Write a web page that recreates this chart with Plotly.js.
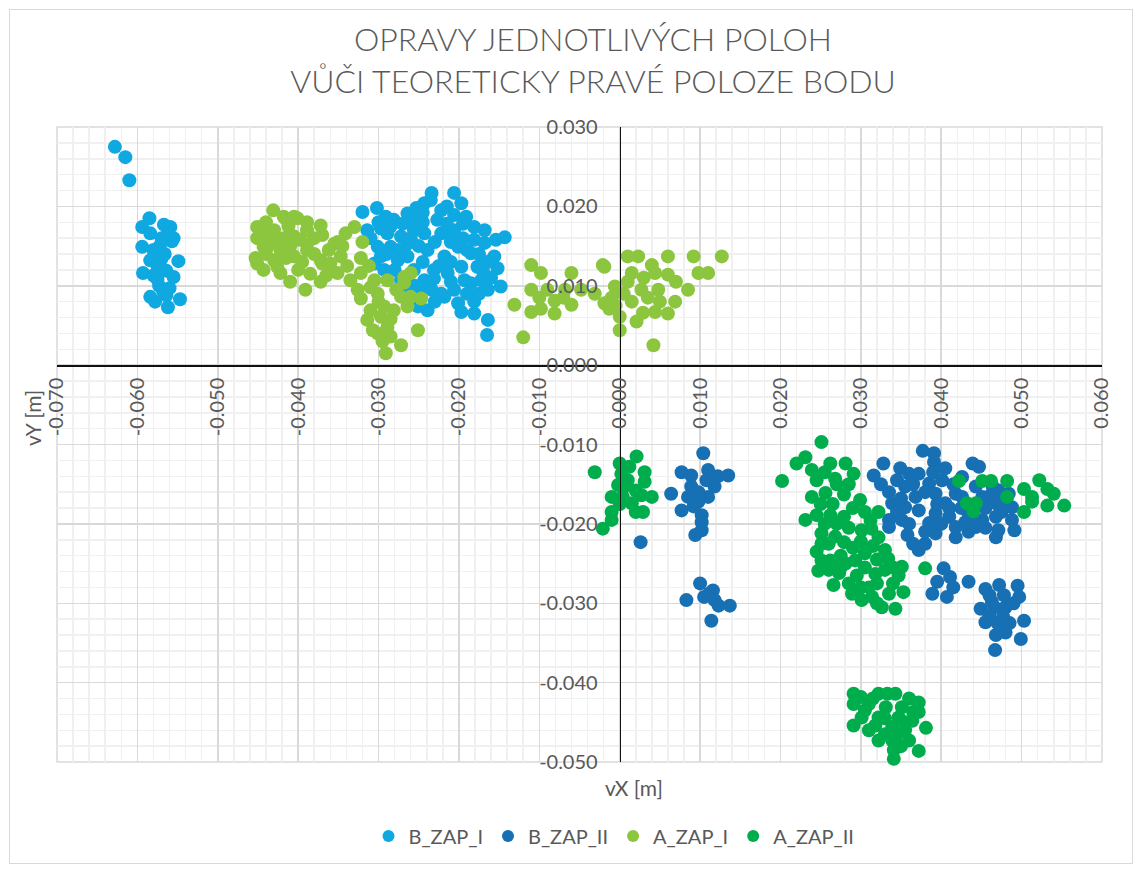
<!DOCTYPE html>
<html>
<head>
<meta charset="utf-8">
<script src="https://cdn.plot.ly/plotly-3.0.1.min.js"></script>
<style>
html,body{margin:0;padding:0;background:#fff;}
#chart{width:1139px;height:871px;position:absolute;left:0;top:0;}
#frame{position:absolute;left:9px;top:9px;width:1122px;height:853px;border:1px solid #D9D9D9;pointer-events:none;}
</style>
</head>
<body>
<div id="chart"></div>
<div id="frame"></div>
<script>
// ---- data (metres) ----
const seriesNames = ['B_ZAP_I', 'B_ZAP_II', 'A_ZAP_I', 'A_ZAP_II'];

const B_ZAP_I = [
[-0.0628,0.0275],[-0.0615,0.0262],[-0.0610,0.0233],
[-0.0585,0.0185],[-0.0594,0.0174],[-0.0567,0.0177],[-0.0559,0.0174],[-0.0584,0.0166],[-0.0555,0.0160],
[-0.0557,0.0156],[-0.0594,0.0149],[-0.0580,0.0145],[-0.0572,0.0150],[-0.0584,0.0132],[-0.0570,0.0134],
[-0.0549,0.0131],[-0.0593,0.0116],[-0.0580,0.0113],[-0.0564,0.0119],[-0.0555,0.0111],[-0.0584,0.0086],
[-0.0578,0.0080],[-0.0564,0.0088],[-0.0562,0.0073],[-0.0547,0.0083],[-0.0560,0.0097],[-0.0573,0.0100],
[-0.0575,0.0125],[-0.0562,0.0165],[-0.0570,0.0160],[-0.0566,0.0140],[-0.0575,0.0108],[-0.0568,0.0093],
[-0.0320,0.0193],[-0.0302,0.0198],[-0.0291,0.0187],[-0.0314,0.0170],[-0.0297,0.0172],[-0.0264,0.0191],
[-0.0253,0.0198],[-0.0243,0.0204],[-0.0234,0.0217],[-0.0206,0.0217],[-0.0197,0.0204],[-0.0222,0.0195],
[-0.0206,0.0189],[-0.0191,0.0187],[-0.0181,0.0174],[-0.0168,0.0170],[-0.0154,0.0158],[-0.0143,0.0161],
[-0.0156,0.0137],[-0.0152,0.0122],[-0.0148,0.0099],[-0.0164,0.0095],[-0.0164,0.0057],[-0.0165,0.0038],
[-0.0181,0.0065],[-0.0197,0.0067],[-0.0239,0.0069],[-0.0251,0.0074],[-0.0222,0.0090],[-0.0206,0.0095],
[-0.0185,0.0103],[-0.0177,0.0124],[-0.0185,0.0141],[-0.0201,0.0149],[-0.0218,0.0137],[-0.0231,0.0120],
[-0.0239,0.0145],[-0.0222,0.0166],[-0.0243,0.0166],[-0.0256,0.0170],[-0.0272,0.0162],[-0.0285,0.0149],
[-0.0301,0.0149],[-0.0305,0.0128],[-0.0293,0.0120],[-0.0276,0.0132],[-0.0264,0.0137],[-0.0256,0.0120],
[-0.0243,0.0107],[-0.0231,0.0109],[-0.0214,0.0116],[-0.0197,0.0124],[-0.0193,0.0107],[-0.0172,0.0107],
[-0.0218,0.0086],[-0.0201,0.0078],[-0.0181,0.0080],[-0.0272,0.0107],[-0.0247,0.0095],[-0.0234,0.0095],
[-0.0214,0.0166],[-0.0206,0.0170],[-0.0181,0.0158],[-0.0168,0.0154],[-0.0264,0.0153],[-0.0289,0.0166],
[-0.0281,0.0183],[-0.0256,0.0183],[-0.0227,0.0183],[-0.0235,0.0208],[-0.0297,0.0137],
[-0.0290,0.0140],[-0.0275,0.0145],[-0.0260,0.0160],[-0.0250,0.0150],[-0.0230,0.0155],[-0.0210,0.0155],
[-0.0195,0.0160],[-0.0190,0.0145],[-0.0175,0.0140],[-0.0165,0.0130],[-0.0170,0.0118],[-0.0160,0.0110],
[-0.0210,0.0130],[-0.0225,0.0125],[-0.0245,0.0130],[-0.0280,0.0120],[-0.0285,0.0175],[-0.0270,0.0178],
[-0.0245,0.0180],[-0.0215,0.0178],[-0.0195,0.0178],[-0.0210,0.0105],[-0.0230,0.0080],[-0.0190,0.0090],
[-0.0175,0.0090],[-0.0255,0.0100],[-0.0265,0.0095],[-0.0215,0.0200],[-0.0245,0.0192],[-0.0310,0.0160],
[-0.0300,0.0180]
];

const B_ZAP_II = [
[0.0104,-0.0111],[0.0077,-0.0135],[0.0135,-0.0139],[0.0064,-0.0162],[0.0077,-0.0183],[0.0102,-0.0189],
[0.0098,-0.0172],[0.0089,-0.0153],[0.0110,-0.0132],[0.0118,-0.0153],[0.0102,-0.0208],[0.0094,-0.0214],
[0.0026,-0.0223],[0.0100,-0.0275],[0.0083,-0.0296],[0.0116,-0.0284],[0.0111,-0.0288],[0.0123,-0.0303],
[0.0137,-0.0303],[0.0114,-0.0322],[0.0089,-0.0139],[0.0110,-0.0166],[0.0085,-0.0166],
[0.0098,-0.0160],[0.0092,-0.0178],[0.0108,-0.0145],[0.0102,-0.0198],[0.0122,-0.0140],[0.0105,-0.0292],
[0.0118,-0.0296],
[0.0377,-0.0108],[0.0391,-0.0111],[0.0391,-0.0122],[0.0328,-0.0124],[0.0316,-0.0139],[0.0349,-0.0130],
[0.0360,-0.0137],[0.0372,-0.0137],[0.0439,-0.0124],[0.0447,-0.0128],[0.0426,-0.0141],[0.0401,-0.0145],
[0.0385,-0.0149],[0.0355,-0.0153],[0.0335,-0.0160],[0.0339,-0.0174],[0.0335,-0.0195],[0.0335,-0.0204],
[0.0358,-0.0214],[0.0372,-0.0233],[0.0380,-0.0225],[0.0393,-0.0212],[0.0418,-0.0217],[0.0434,-0.0210],
[0.0468,-0.0217],[0.0471,-0.0208],[0.0491,-0.0208],[0.0488,-0.0195],[0.0488,-0.0179],[0.0484,-0.0162],
[0.0471,-0.0158],[0.0468,-0.0191],[0.0451,-0.0195],[0.0434,-0.0187],[0.0410,-0.0191],[0.0393,-0.0187],
[0.0372,-0.0183],[0.0355,-0.0179],[0.0351,-0.0195],[0.0385,-0.0199],[0.0405,-0.0174],[0.0418,-0.0162],
[0.0393,-0.0162],[0.0368,-0.0166],[0.0451,-0.0166],[0.0426,-0.0166],[0.0443,-0.0153],[0.0464,-0.0153],
[0.0418,-0.0204],[0.0443,-0.0204],[0.0468,-0.0174],
[0.0345,-0.0145],[0.0365,-0.0150],[0.0380,-0.0160],[0.0395,-0.0175],[0.0410,-0.0180],[0.0425,-0.0180],
[0.0440,-0.0190],[0.0455,-0.0180],[0.0475,-0.0185],[0.0480,-0.0170],[0.0460,-0.0165],[0.0415,-0.0150],
[0.0400,-0.0200],[0.0380,-0.0210],[0.0360,-0.0200],[0.0345,-0.0185],[0.0390,-0.0135],[0.0405,-0.0130],
[0.0455,-0.0205],[0.0430,-0.0198],[0.0365,-0.0225],[0.0350,-0.0168],[0.0325,-0.0150],
[0.0403,-0.0256],[0.0411,-0.0267],[0.0395,-0.0273],[0.0389,-0.0288],[0.0407,-0.0292],[0.0434,-0.0273],
[0.0455,-0.0282],[0.0472,-0.0277],[0.0495,-0.0278],[0.0497,-0.0292],[0.0449,-0.0307],[0.0466,-0.0305],
[0.0480,-0.0305],[0.0503,-0.0322],[0.0455,-0.0324],[0.0468,-0.0340],[0.0480,-0.0337],[0.0499,-0.0345],
[0.0467,-0.0359],[0.0477,-0.0317],[0.0463,-0.0298],
[0.0460,-0.0290],[0.0478,-0.0290],[0.0490,-0.0300],[0.0470,-0.0325],[0.0485,-0.0325],[0.0460,-0.0315],
[0.0415,-0.0280]
];

const A_ZAP_I = [
[-0.0431,0.0195],[-0.0451,0.0174],[-0.0451,0.0160],[-0.0451,0.0128],[-0.0443,0.0120],[-0.0422,0.0116],
[-0.0410,0.0105],[-0.0391,0.0095],[-0.0372,0.0105],[-0.0370,0.0128],[-0.0370,0.0164],[-0.0401,0.0185],
[-0.0416,0.0185],[-0.0430,0.0170],[-0.0405,0.0162],[-0.0389,0.0170],[-0.0422,0.0145],[-0.0405,0.0137],
[-0.0389,0.0145],[-0.0438,0.0149],[-0.0355,0.0153],[-0.0453,0.0135],[-0.0426,0.0124],[-0.0351,0.0116],
[-0.0335,0.0107],[-0.0330,0.0174],[-0.0341,0.0166],[-0.0351,0.0155],[-0.0320,0.0155],[-0.0372,0.0176],
[-0.0389,0.0180],[-0.0405,0.0187],[-0.0418,0.0187],[-0.0389,0.0152],[-0.0372,0.0132],[-0.0347,0.0137],
[-0.0322,0.0135],[-0.0322,0.0116],[-0.0326,0.0095],[-0.0322,0.0084],[-0.0305,0.0107],[-0.0289,0.0107],
[-0.0301,0.0090],[-0.0310,0.0069],[-0.0314,0.0057],[-0.0297,0.0061],[-0.0281,0.0069],[-0.0264,0.0074],
[-0.0247,0.0084],[-0.0260,0.0086],[-0.0272,0.0086],[-0.0268,0.0111],[-0.0260,0.0116],[-0.0268,0.0104],
[-0.0289,0.0048],[-0.0301,0.0040],[-0.0285,0.0036],[-0.0272,0.0025],[-0.0291,0.0015],[-0.0251,0.0044],
[-0.0307,0.0044],[-0.0293,0.0074],[-0.0426,0.0157],[-0.0418,0.0160],[-0.0443,0.0149],
[-0.0445,0.0165],[-0.0435,0.0158],[-0.0440,0.0140],[-0.0430,0.0132],[-0.0415,0.0135],[-0.0410,0.0150],
[-0.0398,0.0158],[-0.0395,0.0130],[-0.0380,0.0140],[-0.0380,0.0160],[-0.0362,0.0145],[-0.0360,0.0128],
[-0.0345,0.0150],[-0.0400,0.0120],[-0.0385,0.0115],[-0.0412,0.0175],[-0.0440,0.0180],[-0.0365,0.0113],
[-0.0339,0.0125],[-0.0312,0.0125],[-0.0310,0.0098],[-0.0300,0.0080],[-0.0285,0.0058],[-0.0278,0.0095],
[-0.0295,0.0030],
[-0.0110,0.0126],[-0.0098,0.0116],[-0.0131,0.0076],[-0.0120,0.0035],[-0.0110,0.0095],[-0.0110,0.0067],
[-0.0098,0.0071],[-0.0081,0.0065],[-0.0081,0.0081],[-0.0060,0.0116],[-0.0060,0.0076],[-0.0068,0.0095],
[-0.0048,0.0095],[-0.0031,0.0090],[-0.0021,0.0126],[-0.0019,0.0078],[-0.0013,0.0071],[0.0000,0.0061],
[0.0000,0.0044],[-0.0006,0.0099],[0.0010,0.0137],[0.0023,0.0137],[0.0015,0.0116],[0.0021,0.0055],
[0.0029,0.0066],[0.0042,0.0025],[0.0044,0.0067],[0.0044,0.0116],[0.0060,0.0137],[0.0060,0.0114],
[0.0060,0.0065],[0.0069,0.0080],[0.0027,0.0095],[0.0048,0.0095],[0.0085,0.0095],[0.0092,0.0137],
[0.0098,0.0116],[0.0110,0.0116],[0.0127,0.0137],[0.0040,0.0126],[-0.0019,0.0124],
[-0.0100,0.0085],[-0.0090,0.0095],[-0.0070,0.0085],[-0.0010,0.0085],[0.0005,0.0090],[0.0015,0.0080],
[0.0035,0.0085],[0.0050,0.0080],[0.0030,0.0110],[0.0070,0.0105],[0.0010,0.0105],[-0.0005,0.0075]
];

const A_ZAP_II = [
[-0.0031,-0.0135],[0.0000,-0.0124],[0.0021,-0.0115],[0.0031,-0.0135],[0.0002,-0.0137],[0.0031,-0.0147],
[-0.0002,-0.0151],[-0.0010,-0.0166],[0.0004,-0.0166],[0.0040,-0.0166],[0.0027,-0.0164],[0.0015,-0.0174],
[0.0029,-0.0185],[-0.0010,-0.0185],[-0.0010,-0.0195],[-0.0021,-0.0206],[0.0004,-0.0155],
[0.0010,-0.0145],[0.0020,-0.0158],[0.0000,-0.0175],[0.0020,-0.0185],[0.0012,-0.0128],
[0.0251,-0.0097],[0.0231,-0.0116],[0.0220,-0.0124],[0.0239,-0.0132],[0.0262,-0.0124],[0.0281,-0.0124],
[0.0291,-0.0137],[0.0268,-0.0143],[0.0245,-0.0145],[0.0239,-0.0166],[0.0256,-0.0161],[0.0279,-0.0163],
[0.0299,-0.0170],[0.0231,-0.0195],[0.0245,-0.0189],[0.0262,-0.0189],[0.0279,-0.0191],[0.0305,-0.0185],
[0.0322,-0.0185],[0.0251,-0.0212],[0.0251,-0.0225],[0.0268,-0.0216],[0.0279,-0.0223],[0.0301,-0.0208],
[0.0313,-0.0206],[0.0322,-0.0217],[0.0262,-0.0246],[0.0260,-0.0258],[0.0273,-0.0262],[0.0266,-0.0277],
[0.0281,-0.0250],[0.0293,-0.0246],[0.0305,-0.0237],[0.0330,-0.0233],[0.0334,-0.0244],[0.0351,-0.0254],
[0.0347,-0.0265],[0.0330,-0.0258],[0.0318,-0.0263],[0.0310,-0.0280],[0.0289,-0.0288],[0.0301,-0.0296],
[0.0314,-0.0292],[0.0335,-0.0288],[0.0353,-0.0286],[0.0326,-0.0305],[0.0343,-0.0307],[0.0380,-0.0256],
[0.0247,-0.0259],[0.0251,-0.0246],[0.0202,-0.0146],
[0.0250,-0.0175],[0.0265,-0.0175],[0.0270,-0.0200],[0.0285,-0.0205],[0.0290,-0.0180],[0.0260,-0.0225],
[0.0275,-0.0240],[0.0290,-0.0230],[0.0300,-0.0222],[0.0315,-0.0228],[0.0320,-0.0245],[0.0305,-0.0255],
[0.0295,-0.0265],[0.0285,-0.0275],[0.0300,-0.0280],[0.0320,-0.0275],[0.0340,-0.0275],[0.0340,-0.0255],
[0.0270,-0.0150],[0.0255,-0.0135],[0.0285,-0.0150],[0.0275,-0.0255],[0.0255,-0.0200],[0.0245,-0.0235],
[0.0312,-0.0195],[0.0320,-0.0300],
[0.0422,-0.0146],[0.0451,-0.0146],[0.0462,-0.0146],[0.0482,-0.0146],[0.0482,-0.0166],[0.0432,-0.0174],
[0.0443,-0.0174],[0.0440,-0.0184],[0.0503,-0.0156],[0.0513,-0.0166],[0.0503,-0.0185],[0.0522,-0.0145],
[0.0532,-0.0156],[0.0532,-0.0177],[0.0540,-0.0162],[0.0553,-0.0177],[0.0513,-0.0172],
[0.0291,-0.0414],[0.0291,-0.0427],[0.0291,-0.0454],[0.0322,-0.0414],[0.0333,-0.0414],[0.0343,-0.0414],
[0.0310,-0.0427],[0.0372,-0.0425],[0.0372,-0.0437],[0.0351,-0.0431],[0.0331,-0.0431],[0.0301,-0.0444],
[0.0322,-0.0444],[0.0347,-0.0444],[0.0364,-0.0448],[0.0318,-0.0454],[0.0339,-0.0456],[0.0355,-0.0460],
[0.0381,-0.0457],[0.0322,-0.0473],[0.0339,-0.0473],[0.0360,-0.0473],[0.0372,-0.0486],[0.0341,-0.0496],
[0.0341,-0.0485],
[0.0305,-0.0435],[0.0315,-0.0420],[0.0360,-0.0420],[0.0330,-0.0445],[0.0345,-0.0465],[0.0330,-0.0465],
[0.0355,-0.0450],[0.0310,-0.0460],[0.0350,-0.0480],[0.0365,-0.0437],[0.0300,-0.0418]
];

const xTickVals = [-0.07,-0.06,-0.05,-0.04,-0.03,-0.02,-0.01,0,0.01,0.02,0.03,0.04,0.05,0.06];
const xTickText = ['-0.070','-0.060','-0.050','-0.040','-0.030','-0.020','-0.010','0.000','0.010','0.020','0.030','0.040','0.050','0.060'];
const yTickVals = [-0.05,-0.04,-0.03,-0.02,-0.01,0,0.01,0.02,0.03];
const yTickText = ['-0.050','-0.040','-0.030','-0.020','-0.010','0.000','0.010','0.020','0.030'];

const seriesData = [B_ZAP_I, B_ZAP_II, A_ZAP_I, A_ZAP_II];
const seriesColors = ['#0FA8E0', '#1670B3', '#8CC63F', '#00AD4C'];

// ---- chart ----
const xRange = [-0.07, 0.06];
const yRange = [-0.05, 0.03];

const traces = seriesData.map((pts, i) => ({
  type: 'scatter',
  mode: 'markers',
  name: seriesNames[i],
  x: pts.map(p => p[0]),
  y: pts.map(p => p[1]),
  marker: {size: 14, color: seriesColors[i], line: {width: 0}},
  cliponaxis: false
}));

const textColor = '#595959';
const fontFam = 'Lato, "Open Sans", "Liberation Sans", sans-serif';

const axisCommon = {
  tickmode: 'array',
  showgrid: true,
  gridcolor: '#D9D9D9',
  gridwidth: 1.5,
  minor: {dtick: 0.002, tick0: 0, showgrid: true, gridcolor: '#F0F0F0', gridwidth: 1.5, ticks: ''},
  showline: true,
  linecolor: '#111111',
  linewidth: 1.6,
  zeroline: false,
  ticks: '',
  tickfont: {family: fontFam, size: 20, color: textColor},
  fixedrange: true
};

const layout = {
  width: 1139,
  height: 871,
  margin: {l: 57, r: 37, t: 127, b: 109},
  paper_bgcolor: '#ffffff',
  plot_bgcolor: '#ffffff',
  font: {family: fontFam, color: textColor},
  title: {
    text: 'OPRAVY JEDNOTLIVÝCH POLOH<br>VŮČI TEORETICKY PRAVÉ POLOZE BODU',
    font: {family: fontFam, size: 32, color: textColor, weight: 300},
    xref: 'container', x: 593 / 1139, xanchor: 'center',
    yref: 'container', y: 1 - 51 / 871, yanchor: 'top'
  },
  xaxis: Object.assign({}, axisCommon, {
    range: xRange,
    anchor: 'free',
    position: (0 - yRange[0]) / (yRange[1] - yRange[0]),
    tickvals: xTickVals,
    ticktext: xTickText,
    tickangle: -90,
    ticklabelstandoff: 3
  }),
  yaxis: Object.assign({}, axisCommon, {
    range: yRange,
    anchor: 'free',
    position: (0 - xRange[0]) / (xRange[1] - xRange[0]),
    tickvals: yTickVals,
    ticktext: yTickText,
    ticklabelstandoff: 18
  }),
  shapes: [
    {type: 'rect', xref: 'paper', yref: 'paper', x0: 0, x1: 1, y0: 0, y1: 1,
     line: {color: '#D9D9D9', width: 1.5}, fillcolor: 'rgba(0,0,0,0)', layer: 'below'}
  ],
  showlegend: true,
  legend: {
    orientation: 'h',
    xref: 'container', x: 614 / 1139, xanchor: 'center',
    yref: 'container', y: 1 - 836 / 871, yanchor: 'middle',
    font: {family: fontFam, size: 20, color: textColor},
    itemsizing: 'constant',
    itemwidth: 30,
    bgcolor: 'rgba(0,0,0,0)'
  },
  annotations: [
    {text: 'vX [m]', xref: 'paper', yref: 'paper', x: (634 - 57) / 1045, y: (762 - 787) / 635,
     showarrow: false, xanchor: 'center', yanchor: 'middle', font: {family: fontFam, size: 21, color: textColor}},
    {text: 'vY [m]', xref: 'paper', yref: 'paper', x: (32 - 57) / 1045, y: (762 - 418) / 635,
     showarrow: false, xanchor: 'center', yanchor: 'middle', textangle: -90, font: {family: fontFam, size: 21, color: textColor}}
  ]
};

Plotly.newPlot('chart', traces, layout, {displayModeBar: false, staticPlot: true});
</script>
</body>
</html>
